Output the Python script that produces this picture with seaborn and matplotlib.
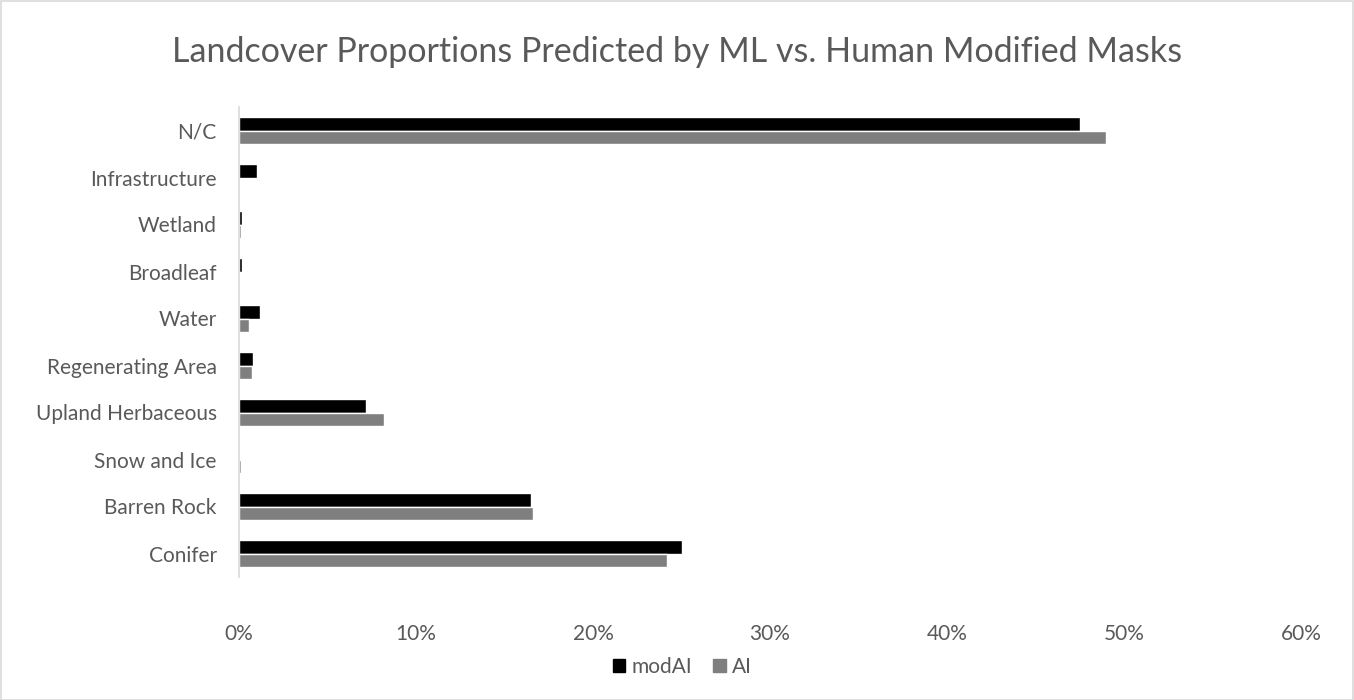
import matplotlib
matplotlib.use("Agg")
import matplotlib.pyplot as plt
import matplotlib.patches as mpatches
from matplotlib.ticker import FuncFormatter
import seaborn as sns
import pandas as pd

categories = ["N/C", "Infrastructure", "Wetland", "Broadleaf", "Water",
              "Regenerating Area", "Upland Herbaceous", "Snow and Ice",
              "Barren Rock", "Conifer"]
mod_ai = [47.5, 1.0, 0.17, 0.17, 1.19, 0.77, 7.2, 0.08, 16.5, 25.0]
ai = [49.0, 0.0, 0.13, 0.05, 0.58, 0.72, 8.2, 0.12, 16.6, 24.2]
series = ["modAI", "AI"]
x_ticks = [0, 10, 20, 30, 40, 50, 60]

df = pd.DataFrame({
    "category": categories * 2,
    "value": mod_ai + ai,
    "series": [series[0]] * len(categories) + [series[1]] * len(categories),
})

sns.set_theme(style="white")
plt.rcParams["font.family"] = ["Lato", "DejaVu Sans"]
text_color = "#595959"
colors = {"modAI": "#000000", "AI": "#7f7f7f"}

fig = plt.figure(figsize=(13.54, 7.0), dpi=100)
ax = fig.add_axes([239 / 1354, 1 - 577 / 700, (1301 - 239) / 1354, (577 - 107) / 700])

sns.barplot(data=df, y="category", x="value", hue="series", order=categories,
            hue_order=series, palette=colors, orient="h", width=0.56,
            saturation=1, ax=ax, legend=False)

ax.set_xlim(0, 60)
ax.set_xticks(x_ticks)
ax.xaxis.set_major_formatter(FuncFormatter(lambda v, p: f"{v:.0f}%"))
ax.set_xlabel("")
ax.set_ylabel("")
for s in ["top", "right", "bottom"]:
    ax.spines[s].set_visible(False)
ax.spines["left"].set_color("#d9d9d9")
ax.spines["left"].set_linewidth(1.2)
ax.tick_params(axis="x", length=0, pad=34, labelsize=15, labelcolor=text_color)
ax.tick_params(axis="y", length=0, pad=16, labelsize=15, labelcolor=text_color)
ax.grid(False)

fig.text(0.5, 1 - 52 / 700, "Landcover Proportions Predicted by ML vs. Human Modified Masks",
         ha="center", va="center", fontsize=24.5, color=text_color)

handles = [mpatches.Patch(color=colors[s], label=s) for s in series]
fig.legend(handles=handles, loc="center", bbox_to_anchor=(0.504, 1 - 667 / 700),
           ncol=2, frameon=False, fontsize=15, labelcolor=text_color,
           handlelength=0.6, handleheight=0.6, handletextpad=0.3, columnspacing=1.0)

border = mpatches.Rectangle((0.5 / 1354, 0.5 / 700), 1 - 1.5 / 1354, 1 - 1.5 / 700,
                            transform=fig.transFigure, fill=False,
                            edgecolor="#d9d9d9", linewidth=1.2)
fig.patches.append(border)

fig.savefig("out.png", dpi=100, facecolor="white")
